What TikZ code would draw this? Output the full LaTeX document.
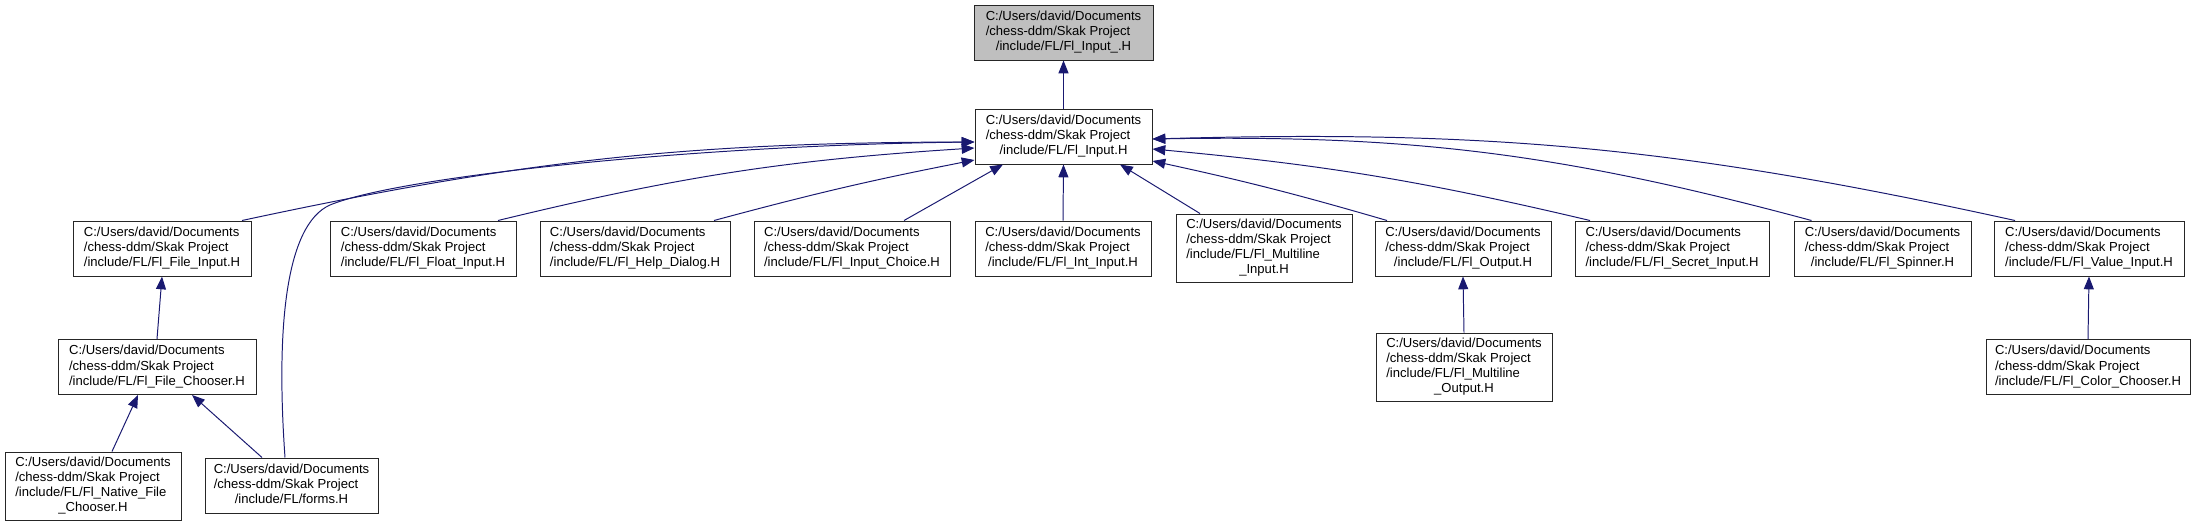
\documentclass[tikz,border=0pt]{standalone}
\usepackage{fontspec}
\setmainfont{Liberation Sans}
\usetikzlibrary{arrows.meta}
\definecolor{edge}{HTML}{191970}
\definecolor{curfill}{HTML}{BFBFBF}
\newcommand{\fpath}[1]{\begin{tabular}{@{}l@{}}C:/Users/david/Documents\\/chess-ddm/Skak Project\\\multicolumn{1}{@{}c@{}}{#1}\end{tabular}}
\newcommand{\fpathsplit}[2]{\begin{tabular}{@{}l@{}}C:/Users/david/Documents\\/chess-ddm/Skak Project\\#1\\\multicolumn{1}{@{}c@{}}{#2}\end{tabular}}

\begin{document}
\begin{tikzpicture}[
  >={Triangle[length=0.32cm,width=0.25cm]},
  file/.style={draw=black!85, line width=0.7pt, fill=white, minimum height=1.375cm, inner sep=0pt, font=\fontsize{9.3}{10.7}\selectfont},
  tall/.style={minimum height=1.7cm},
  cur/.style={fill=curfill},
  dep/.style={->, draw=edge, line width=0.7pt},
]
\useasboundingbox (0,0) rectangle (54.95,-13.175);

\node[file, cur, minimum width=4.475cm] (inputu) at (26.5875,-0.8125) {\fpath{/include/FL/Fl\_Input\_.H}};
\node[file, minimum width=4.425cm] (input) at (26.5875,-3.4125) {\fpath{/include/FL/Fl\_Input.H}};

\node[file, minimum width=4.45cm] (fileinput) at (4.05,-6.2125) {\fpath{/include/FL/Fl\_File\_Input.H}};
\node[file, minimum width=4.65cm] (floatinput) at (10.575,-6.2125) {\fpath{/include/FL/Fl\_Float\_Input.H}};
\node[file, minimum width=4.75cm] (helpdialog) at (15.875,-6.2125) {\fpath{/include/FL/Fl\_Help\_Dialog.H}};
\node[file, minimum width=4.9cm] (inputchoice) at (21.3,-6.2125) {\fpath{/include/FL/Fl\_Input\_Choice.H}};
\node[file, minimum width=4.4cm] (intinput) at (26.575,-6.2125) {\fpath{/include/FL/Fl\_Int\_Input.H}};
\node[file, tall, minimum width=4.4cm] (mlinput) at (31.6,-6.2) {\fpathsplit{/include/FL/Fl\_Multiline}{\_Input.H}};
\node[file, minimum width=4.4cm] (output) at (36.575,-6.2125) {\fpath{/include/FL/Fl\_Output.H}};
\node[file, minimum width=4.85cm] (secretinput) at (41.8,-6.2125) {\fpath{/include/FL/Fl\_Secret\_Input.H}};
\node[file, minimum width=4.425cm] (spinner) at (47.0625,-6.2125) {\fpath{/include/FL/Fl\_Spinner.H}};
\node[file, minimum width=4.75cm] (valueinput) at (52.225,-6.2125) {\fpath{/include/FL/Fl\_Value\_Input.H}};

\node[file, minimum width=4.95cm] (filechooser) at (3.925,-9.175) {\fpath{/include/FL/Fl\_File\_Chooser.H}};
\node[file, tall, minimum width=4.4cm] (mloutput) at (36.6,-9.175) {\fpathsplit{/include/FL/Fl\_Multiline}{\_Output.H}};
\node[file, minimum width=5.1cm] (colorchooser) at (52.2,-9.175) {\fpath{/include/FL/Fl\_Color\_Chooser.H}};

\node[file, tall, minimum width=4.4cm] (nativechooser) at (2.325,-12.15) {\fpathsplit{/include/FL/Fl\_Native\_File}{\_Chooser.H}};
\node[file, minimum width=4.325cm] (forms) at (7.2875,-12.1375) {\fpath{/include/FL/forms.H}};

\draw[dep] (input.north) -- (inputu.south);
\draw[dep] ([xshift=2cm]fileinput.north) to[bend left=6] ([yshift=-0.1375cm]input.west);
\draw[dep] ([xshift=-0.1625cm]forms.north) .. controls (6.9,-8.25) and (7.125,-5.625) .. (8.25,-5.125) .. controls (10,-4.4) and (17.5,-3.625) .. ([yshift=-0.1375cm]input.west);
\draw[dep] ([xshift=1.875cm]floatinput.north) to[bend left=5] ([yshift=-0.2875cm]input.west);
\draw[dep] ([xshift=1.975cm]helpdialog.north) to[bend left=2] ([yshift=-0.5875cm]input.west);
\draw[dep] ([xshift=1.3cm]inputchoice.north) -- ([xshift=-1.5125cm]input.south);
\draw[dep] (intinput.north) -- (input.south);
\draw[dep] ([xshift=-1.6cm]mlinput.north) -- ([xshift=1.4125cm]input.south);
\draw[dep] ([xshift=-1.9cm]output.north) to[bend right=2] ([yshift=-0.6125cm]input.east);
\draw[dep] ([xshift=-2.05cm]secretinput.north) to[bend right=4] ([yshift=-0.3125cm]input.east);
\draw[dep] ([xshift=-1.775cm]spinner.north) to[bend right=8] ([yshift=-0.0625cm]input.east);
\draw[dep] ([xshift=-1.85cm]valueinput.north) to[bend right=7] ([yshift=-0.0625cm]input.east);

\draw[dep] (filechooser.north) -- (fileinput.south);
\draw[dep] ([xshift=0.475cm]nativechooser.north) -- ([xshift=-0.475cm]filechooser.south);
\draw[dep] ([xshift=-0.7375cm]forms.north) -- ([xshift=0.875cm]filechooser.south);
\draw[dep] (mloutput.north) -- (output.south);
\draw[dep] (colorchooser.north) -- (valueinput.south);

\end{tikzpicture}
\end{document}
